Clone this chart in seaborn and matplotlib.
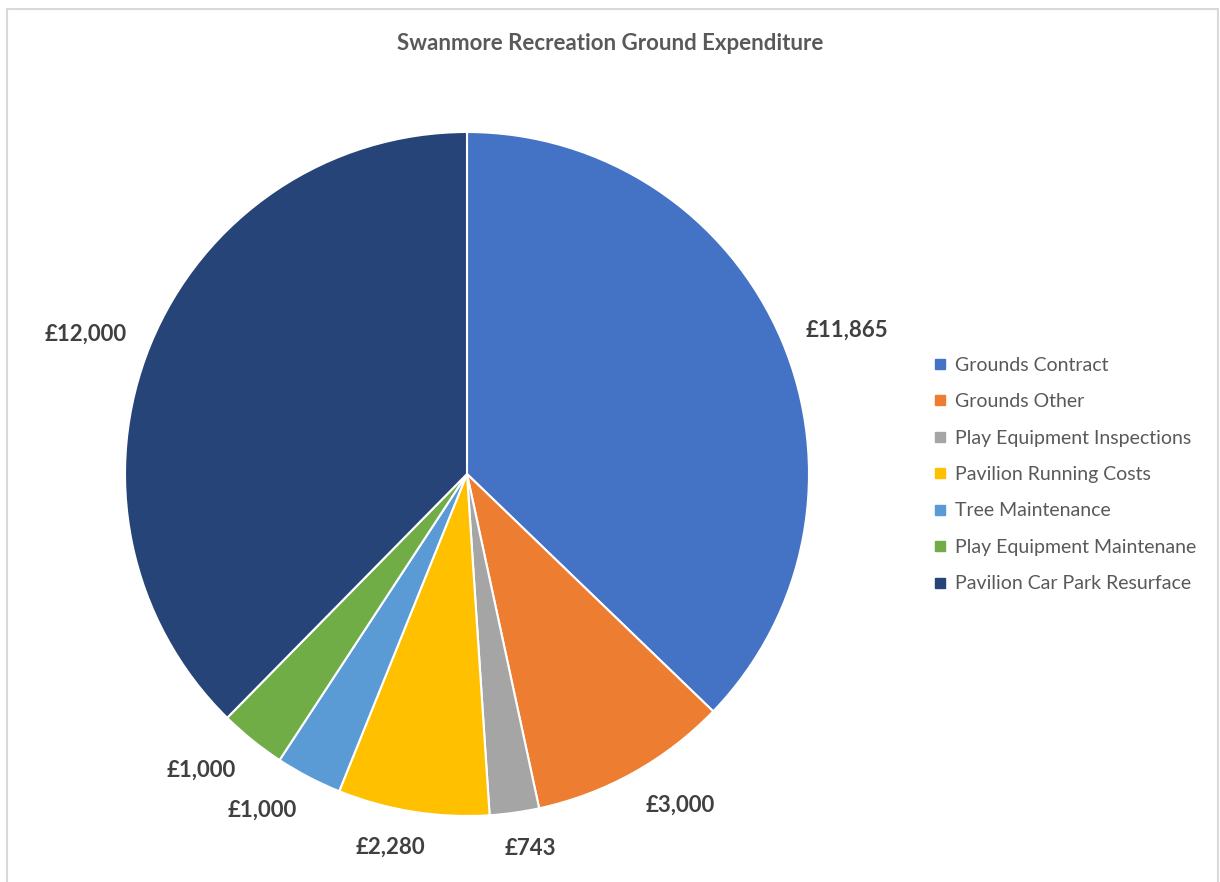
import numpy as np
import pandas as pd
import seaborn as sns
import matplotlib.pyplot as plt
from matplotlib.lines import Line2D

# Chart data
categories = ['Grounds Contract', 'Grounds Other', 'Play Equipment Inspections',
              'Pavilion Running Costs', 'Tree Maintenance', 'Play Equipment Maintenane',
              'Pavilion Car Park Resurface']
amounts = [11865, 3000, 743, 2280, 1000, 1000, 12000]
colours = ['#4472C4', '#ED7D31', '#A5A5A5', '#FFC000', '#5B9BD5', '#70AD47', '#264478']
title = 'Swanmore Recreation Ground Expenditure'

df = pd.DataFrame({'Category': categories, 'Amount': amounts})

sns.set_theme(style='white')
plt.rcParams['font.family'] = ['Lato', 'DejaVu Sans']

# Figure in pixels
W, H, DPI = 1220, 882, 100
fig = plt.figure(figsize=(W / DPI, H / DPI), dpi=DPI)

# Pie geometry (pixels from top-left)
cx, cy, R = 467, 474, 342
half_x = 1.3
ax_left = cx - half_x * R
ax = fig.add_axes([ax_left / W, 0, 2 * half_x * R / W, 1])

wedges, texts = ax.pie(df['Amount'], colors=colours, startangle=90, counterclock=False,
                       wedgeprops=dict(edgecolor='white', linewidth=1.5))
ax.set_xlim(-half_x, half_x)
ax.set_ylim(-(H - cy) / R, cy / R)
ax.set_aspect('auto')
ax.axis('off')

# Data labels, placed outside the pie like Excel's outside end labels
labels = []
for w, v in zip(wedges, df['Amount']):
    ang = np.deg2rad((w.theta1 + w.theta2) / 2)
    t = ax.text(0, 0, f'£{v:,.0f}', ha='center', va='center', fontsize=16,
                fontweight='bold', color='#404040')
    labels.append((t, ang))

fig.canvas.draw()
renderer = fig.canvas.get_renderer()
for t, ang in labels:
    bb = t.get_window_extent(renderer)
    hw = bb.width / 2 / R
    hh = 10 / R
    c, s = np.cos(ang), np.sin(ang)
    # the label corner nearest the pie sits on the slice's mid ray
    xf = np.clip(c / 0.3, -1, 1)
    yf = np.sign(s) * np.clip((abs(s) - 0.4) / 0.4, 0, 1)
    d = 1.076
    t.set_position((d * c + xf * hw, d * s + yf * hh))

# Title
fig.text(610 / W, 1 - 43 / H, title, ha='center', va='center', fontsize=16,
         fontweight='bold', color='#595959')

# Legend
handles = [Line2D([0], [0], marker='s', linestyle='', markersize=7.5,
                  markerfacecolor=c, markeredgecolor=c) for c in colours]
fig.legend(handles, categories, loc='upper left', bbox_to_anchor=(924 / W, 1 - 347 / H),
           frameon=False, fontsize=14, labelcolor='#595959', handlelength=0.6,
           handletextpad=0.5, labelspacing=1.0, borderpad=0)

# Chart border
fig.add_artist(Line2D([6.5 / W, 6.5 / W, 1217.5 / W, 1217.5 / W],
                      [0, 1 - 9 / H, 1 - 9 / H, 0], color='#D9D9D9', linewidth=1.5,
                      transform=fig.transFigure))

fig.savefig('out.png', dpi=DPI)
